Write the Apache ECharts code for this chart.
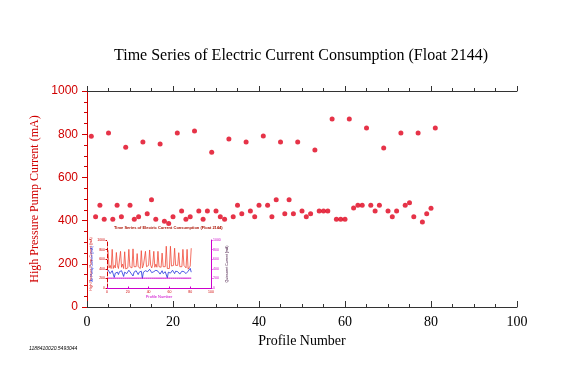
<!DOCTYPE html>
<html><head><meta charset="utf-8">
<script src="https://cdn.jsdelivr.net/npm/echarts@6/dist/echarts.min.js"></script>
<style>html,body{margin:0;padding:0;background:#fff}#c{width:576px;height:379px}</style>
</head><body><div id="c"></div>
<script>
// High pressure pump current (mA) per profile 1..81
const pumpCurrent = [790,418,471,406,805,406,471,418,740,471,406,418,764,432,497,406,755,397,386,418,
  805,444,406,418,815,444,406,444,717,444,418,406,778,418,471,432,764,444,418,471,
  792,471,418,497,764,432,497,432,764,444,418,432,727,444,444,444,870,406,406,406,
  870,458,471,471,829,471,444,471,736,444,418,444,805,471,483,418,805,393,432,457,829];
// inset chart: secondary series (rough read)
const insetBlue = [380,350,300,330,360,290,220,310,350,330,280,340,300,360,320,240,330,350,300,280,
  370,330,310,350,250,330,300,360,340,280,330,310,350,200,330,300,360,380,340,370,
  390,350,320,360,340,300,370,330,350,310,290,330,360,300,330,340,350,210,330,360,
  310,340,370,330,300,350,320,340,360,290,330,350,310,340,320,300,330,350,390,410,330];
const insetMagenta = [205,205,205,205,205,205,205,205,205,205,205,205,205,205,205,205,205,205,205,205,
  205,205,205,205,205,205,205,205,205,205,205,205,205,205,205,205,205,205,205,205,
  205,205,205,205,205,205,205,205,205,205,205,205,205,205,205,205,205,205,205,205,
  205,205,205,205,205,205,205,205,205,205,205,205,205,205,205,205,205,205,205,205,205];
const titleText = 'Time Series of Electric Current Consumption (Float 2144)';
const yName = 'High Pressure Pump Current (mA)';
const xName = 'Profile Number';
const stamp = '1188410020.5493044';

const toXY = arr => arr.map((v, i) => [i + 1, v]);
const RED = '#d00000', DOT = '#e0001a', BLK = '#333', MAG = '#cc00cc', BLUE = '#2233dd';
const serif = 'Liberation Serif';
const plain = v => String(v);

const chart = echarts.init(document.getElementById('c'), null, {renderer: 'canvas'});
chart.setOption({
  animation: false,
  backgroundColor: '#fff',
  title: {
    text: titleText, left: 296, top: 43, textAlign: 'center',
    textStyle: {fontFamily: serif, fontSize: 16, fontWeight: 'normal', color: '#000'}
  },
  graphic: [{
    type: 'text', left: 29, top: 346,
    style: {text: stamp, font: 'italic 5px "Liberation Sans"', fill: '#000'}
  }, {
    type: 'text', left: 114, top: 226,
    style: {text: titleText, font: 'bold 4px "Liberation Sans"', fill: '#aa1100'}
  }],
  grid: [
    {left: 87, right: 59, top: 91, bottom: 72},
    {left: 107, right: 365, top: 240, bottom: 91}
  ],
  xAxis: [
    {gridIndex: 0, type: 'value', min: 0, max: 100, interval: 20, position: 'bottom',
     axisLine: {lineStyle: {color: BLK, width: 1}},
     axisTick: {inside: true, length: 6, lineStyle: {color: BLK}},
     minorTick: {show: true, splitNumber: 4, length: 3, lineStyle: {color: BLK}},
     axisLabel: {color: '#000', fontFamily: serif, fontSize: 14, margin: 8, formatter: plain},
     splitLine: {show: false},
     name: xName, nameLocation: 'middle', nameGap: 26,
     nameTextStyle: {fontFamily: serif, fontSize: 14, color: '#000'}},
    {gridIndex: 0, type: 'value', min: 0, max: 100, interval: 20, position: 'top',
     axisLine: {lineStyle: {color: BLK, width: 1}},
     axisTick: {inside: false, length: 5, lineStyle: {color: BLK}},
     minorTick: {show: true, splitNumber: 4, length: 3, lineStyle: {color: BLK}},
     axisLabel: {show: false}, splitLine: {show: false}},
    {gridIndex: 1, type: 'value', min: 0, max: 100, interval: 20, position: 'bottom',
     axisLine: {lineStyle: {color: MAG, width: 1}},
     axisTick: {inside: true, length: 1.5, lineStyle: {color: MAG}},
     axisLabel: {color: RED, fontSize: 3.5, margin: 2, formatter: plain},
     splitLine: {show: false},
     name: xName, nameLocation: 'middle', nameGap: 7,
     nameTextStyle: {fontSize: 4, color: MAG}}
  ],
  yAxis: [
    {gridIndex: 0, type: 'value', min: 0, max: 1000, interval: 200,
     axisLine: {show: true, lineStyle: {color: RED, width: 1}},
     axisTick: {show: true, inside: false, length: 5, lineStyle: {color: RED}},
     minorTick: {show: true, splitNumber: 4, length: 3, lineStyle: {color: RED}},
     axisLabel: {color: RED, fontFamily: 'Liberation Sans', fontSize: 12, margin: 9, formatter: plain},
     splitLine: {show: false},
     name: yName, nameLocation: 'middle', nameGap: 42,
     nameTextStyle: {fontFamily: serif, fontSize: 12, color: RED}},
    {gridIndex: 1, type: 'value', min: 0, max: 1000, interval: 200,
     axisLine: {show: true, lineStyle: {color: RED, width: 1, type: 'dashed'}},
     axisTick: {show: true, length: 1.5, lineStyle: {color: RED}},
     axisLabel: {color: RED, fontSize: 3.5, margin: 2, formatter: plain},
     splitLine: {show: false},
     name: 'High Pressure Pump Current (mA)', nameLocation: 'middle', nameGap: 9,
     nameTextStyle: {fontSize: 3.5, color: RED}},
    {gridIndex: 1, type: 'value', min: 0, max: 1000, interval: 200, position: 'left', offset: 0,
     axisLine: {show: false}, axisTick: {show: false}, axisLabel: {show: false},
     splitLine: {show: false},
     name: 'Air Pump Current (mA)', nameLocation: 'middle', nameGap: 13,
     nameTextStyle: {fontSize: 3.5, color: BLUE}},
    {gridIndex: 1, type: 'value', min: 0, max: 1000, interval: 200, position: 'right',
     axisLine: {show: true, lineStyle: {color: MAG, width: 1}},
     axisTick: {show: true, length: 1.5, lineStyle: {color: MAG}},
     axisLabel: {color: MAG, fontSize: 3.5, margin: 2, formatter: plain},
     splitLine: {show: false},
     name: 'Quiescent Current (mA)', nameLocation: 'middle', nameGap: 11,
     nameTextStyle: {fontSize: 3.5, color: '#330033'}}
  ],
  series: [
    {type: 'scatter', xAxisIndex: 0, yAxisIndex: 0, data: toXY(pumpCurrent),
     symbol: 'circle', symbolSize: 5, itemStyle: {color: DOT}, silent: true},
    {type: 'line', xAxisIndex: 2, yAxisIndex: 1, data: toXY(pumpCurrent),
     symbol: 'none', lineStyle: {color: '#f04a3a', width: 0.8}, silent: true},
    {type: 'line', xAxisIndex: 2, yAxisIndex: 2, data: toXY(insetBlue),
     symbol: 'none', lineStyle: {color: BLUE, width: 0.8}, silent: true},
    {type: 'line', xAxisIndex: 2, yAxisIndex: 3, data: toXY(insetMagenta),
     symbol: 'none', lineStyle: {color: MAG, width: 1}, silent: true}
  ]
});
</script>
</body></html>
